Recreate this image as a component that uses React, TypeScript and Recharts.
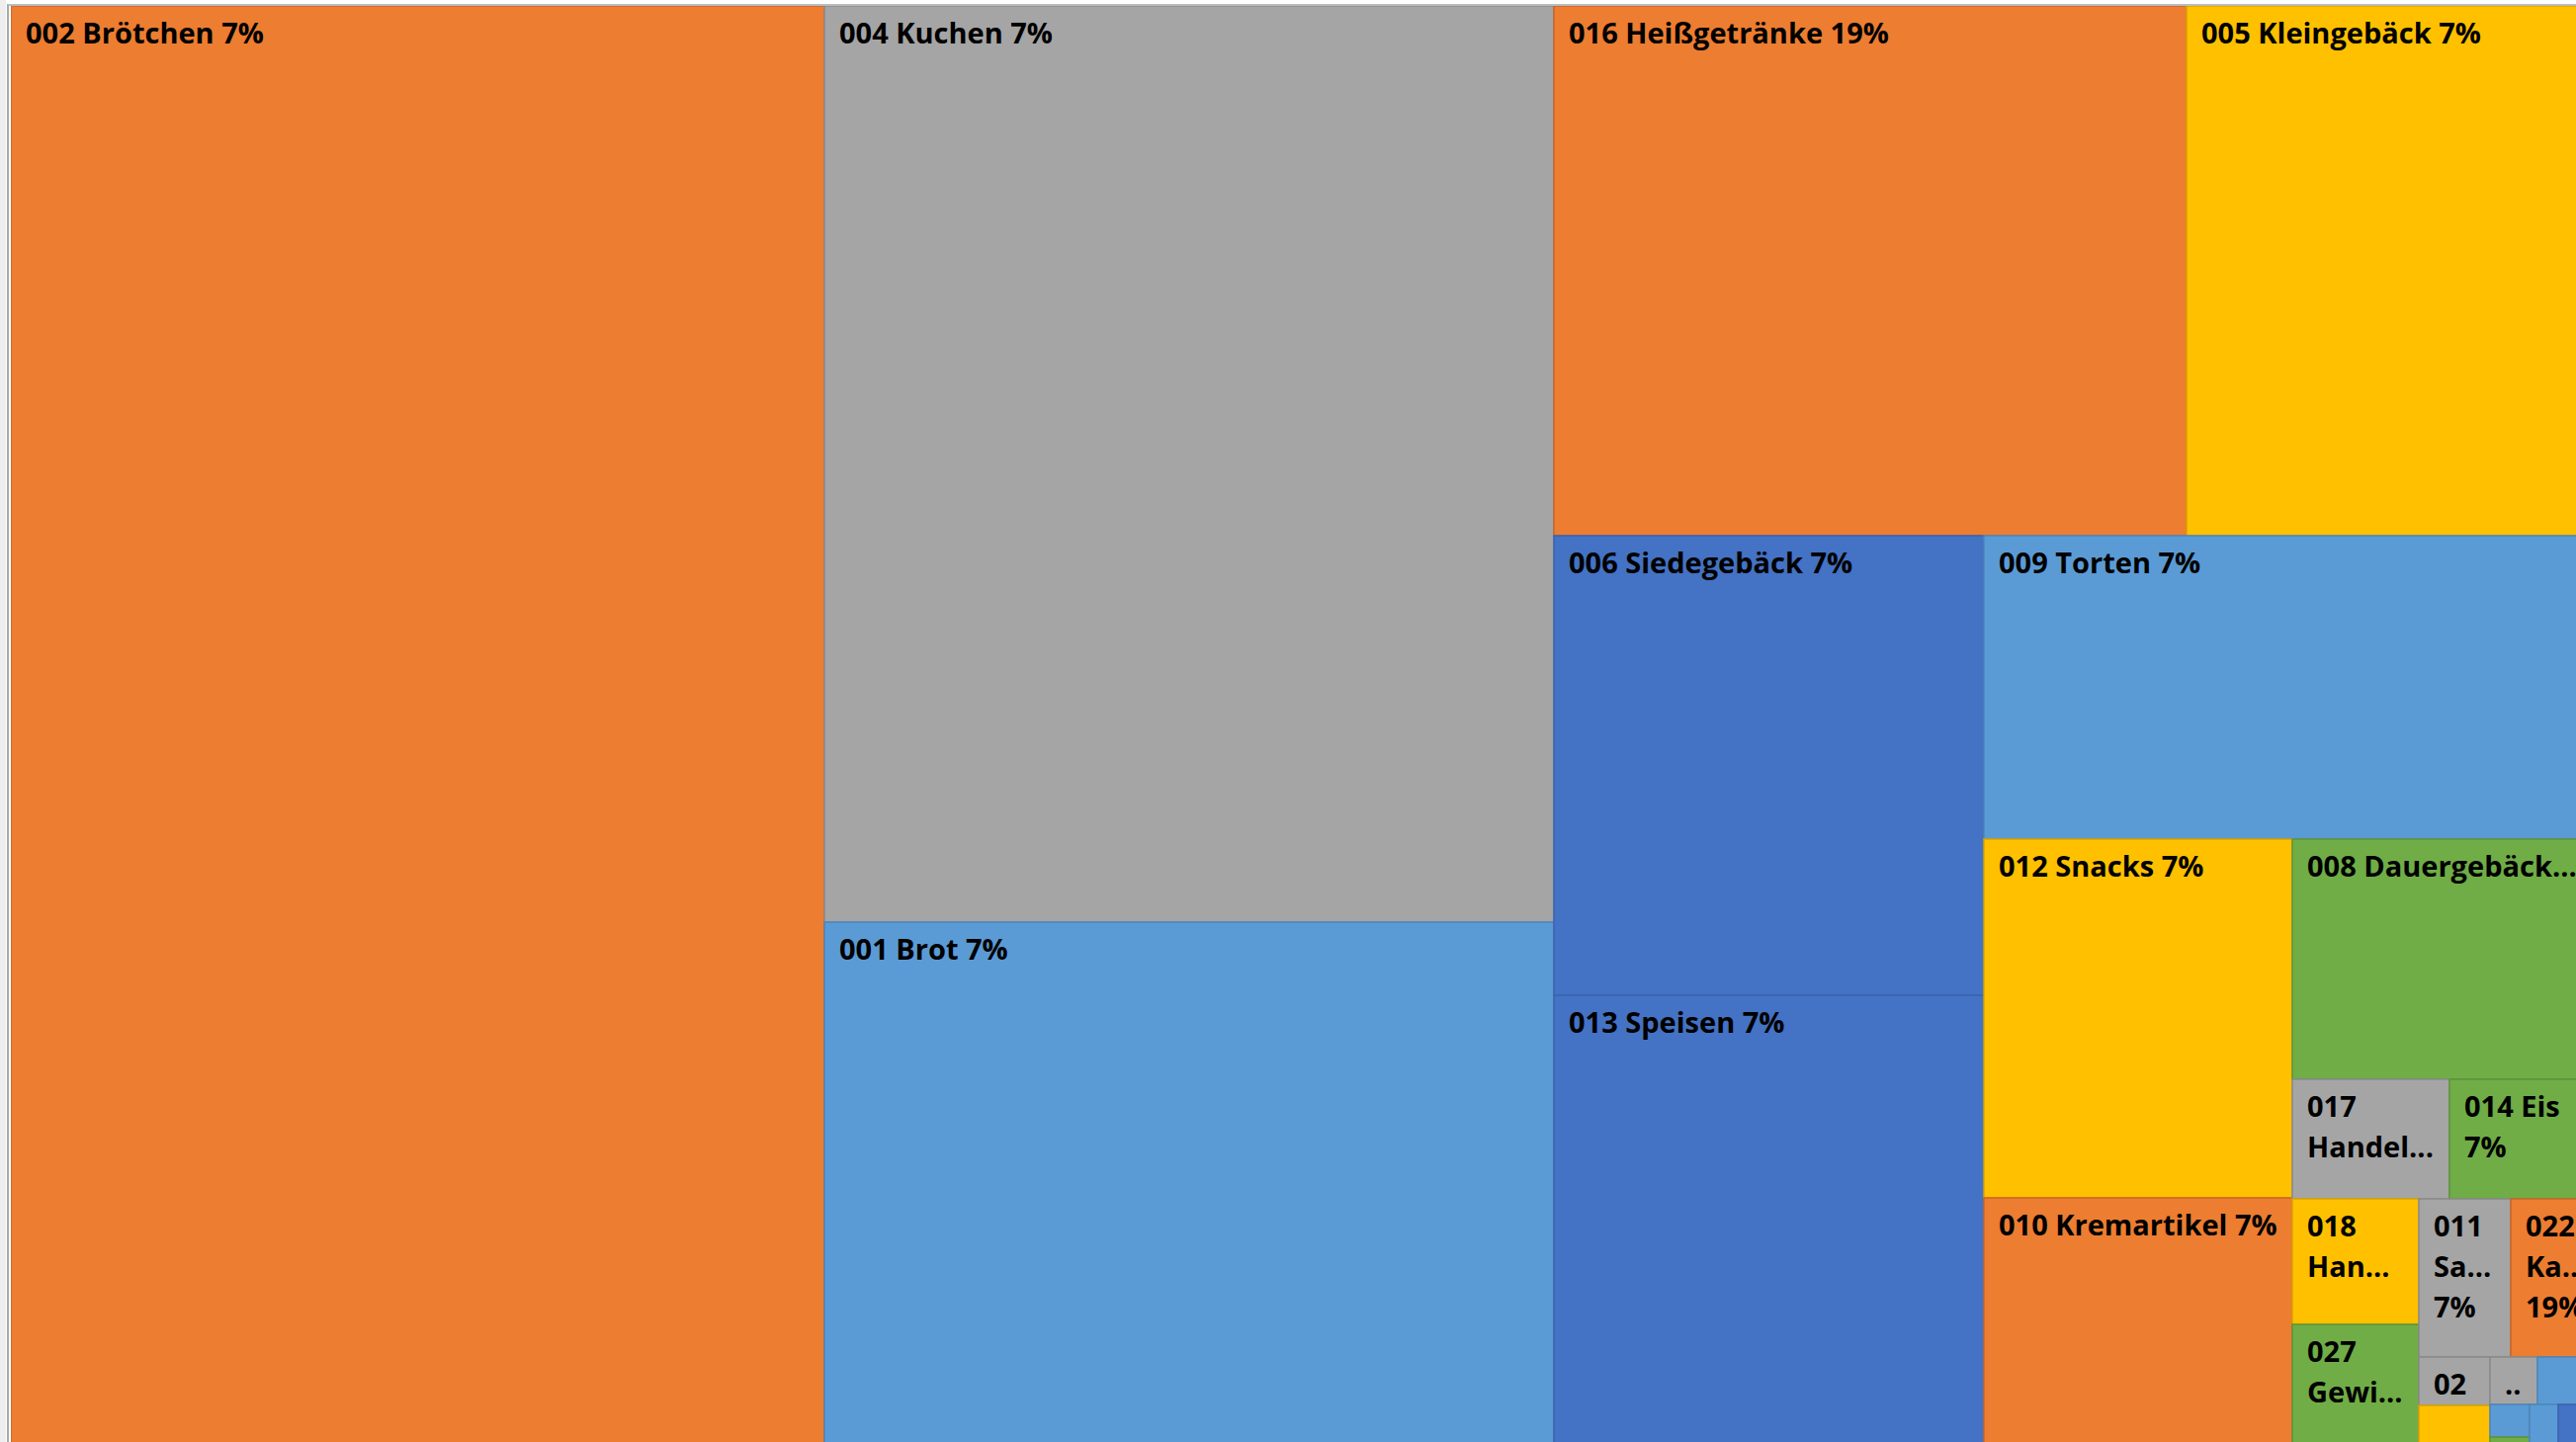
import React from 'react';
import { Treemap } from 'recharts';

// Label lines as shown in the cells (Excel wraps and truncates them)
const labelLines: string[][] = [
  ['002 Brötchen 7%'],
  ['004 Kuchen 7%'],
  ['001 Brot 7%'],
  ['016 Heißgetränke 19%'],
  ['005 Kleingebäck 7%'],
  ['006 Siedegebäck 7%'],
  ['013 Speisen 7%'],
  ['009 Torten 7%'],
  ['012 Snacks 7%'],
  ['010 Kremartikel 7%'],
  ['008 Dauergebäck...'],
  ['017', 'Handel...'],
  ['014 Eis', '7%'],
  ['018', 'Han...'],
  ['027', 'Gewi...'],
  ['011', 'Sa...', '7%'],
  ['022', 'Ka...', '19%'],
  ['02'],
  [],
  ['..'],
  [],
  [],
  [],
  [],
  [],
];

// Sizes (visible area of each tile)
const values: number[] = [
  1197465, 684126, 389664, 343040, 212256, 202275, 197490, 184507, 113256, 77688,
  69938, 19239, 15730, 16256, 15367, 14787, 10971, 3504, 2800, 2303,
  1927, 1300, 300, 1176, 798,
];

// colour group of each tile
const groups: number[] = [
  1, 2, 4, 1, 3, 0, 0, 4, 3, 1,
  5, 2, 5, 3, 5, 2, 1, 2, 3, 2,
  4, 4, 5, 4, 0,
];

// how the tiles are grouped (indices into the arrays above)
type Nest = number | Nest[];
const smallest: Nest = [[17, 18], [19, 20], [[21, 22], 23, 24]];
const bottomRight: Nest = [10, 11, 12, [13, 14, [15, 16, smallest]]];
const nesting: Nest[] = [
  0,
  [1, 2, [3, 4, [5, 6, [7, [[8, 9], bottomRight]]]]],
];

const palette = [
  { fill: '#4472C4', stroke: '#3A64AE' },
  { fill: '#ED7D31', stroke: '#C9652A' },
  { fill: '#A5A5A5', stroke: '#8A8A8A' },
  { fill: '#FFC000', stroke: '#D9A400' },
  { fill: '#5B9BD5', stroke: '#4C86BB' },
  { fill: '#70AD47', stroke: '#5E943B' },
];

const build = (n: Nest): any =>
  typeof n === 'number'
    ? { name: labelLines[n].join(' '), value: values[n], idx: n }
    : { name: '', children: n.map(build) };

const data = nesting.map(build);

const Tile = (props: any) => {
  const { x, y, width, height, idx, children } = props;
  if ((children && children.length) || idx === undefined || !(width > 0) || !(height > 0)) return <g />;
  const c = palette[groups[idx]];
  return (
    <g>
      <rect x={x} y={y} width={width} height={height} fill={c.fill} stroke={c.stroke} strokeWidth={1.5} />
      {labelLines[idx].map((t, i) => (
        <text
          key={i}
          x={x + 15}
          y={y + 38 + i * 41}
          fontSize={29}
          fontWeight={700}
          fontFamily="'Open Sans', sans-serif"
          fill="#000"
        >
          {t}
        </text>
      ))}
    </g>
  );
};

export default function App() {
  return (
    <div style={{ position: 'fixed', left: 0, top: 0, width: '100vw', height: '100vh', overflow: 'hidden', background: '#fff' }}>
      <div style={{ position: 'absolute', left: 0, top: 0, width: 6, height: '100%', background: '#eeeeee' }} />
      <div style={{ position: 'absolute', left: 7, top: 4, width: 3000, height: 3000, borderLeft: '2px solid #a8a8a8', borderTop: '2px solid #bcbcbc' }} />
      <div style={{ position: 'absolute', left: 11, top: 6 }}>
        <Treemap
          width={2597}
          height={1455}
          data={data}
          dataKey="value"
          aspectRatio={1.3}
          type="flat"
          isAnimationActive={false}
          content={<Tile />}
        />
      </div>
    </div>
  );
}
